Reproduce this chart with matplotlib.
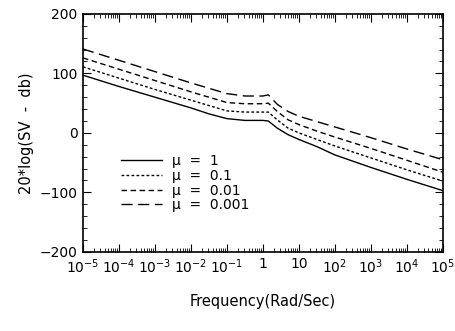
import numpy as np
import matplotlib.pyplot as plt
from matplotlib.ticker import FixedLocator, NullFormatter

logw = [-5, -4, -3, -2, -1.5, -1, -0.5, 0, 0.15, 0.4, 0.7, 1, 1.5, 2, 3, 4, 5]

sv_mu1 = [97, 78, 60, 42, 32, 24, 21, 21, 20, 8, -3, -11, -23, -37, -58, -78, -97]
sv_mu01 = [111, 92, 73, 55, 46, 37, 35, 35, 35, 22, 8, 0, -11, -22, -42, -62, -81]
sv_mu001 = [126, 107, 88, 69, 60, 51, 49, 49, 50, 36, 22, 14, 3, -7, -26, -46, -66]
sv_mu0001 = [141, 122, 103, 84, 75, 66, 62, 62, 64, 48, 36, 28, 19, 10, -8, -27, -45]

labels = ['μ  =  1', 'μ  =  0.1', 'μ  =  0.01', 'μ  =  0.001']
xticklabels = [r'$10^{-5}$', r'$10^{-4}$', r'$10^{-3}$', r'$10^{-2}$', r'$10^{-1}$',
               '1', '10', r'$10^{2}$', r'$10^{3}$', r'$10^{4}$', r'$10^{5}$']

w = 10.0 ** np.array(logw)

fig = plt.figure(figsize=(4.56, 3.31), dpi=100)
ax = fig.add_axes([0.182, 0.239, 0.789, 0.719])

styles = [(None, 1.0), ((2, 1.6), 1.0), ((4, 2.5), 1.0), ((8, 4), 1.0)]
for ys, lab, (dash, lw) in zip([sv_mu1, sv_mu01, sv_mu001, sv_mu0001], labels, styles):
    line, = ax.plot(w, ys, color='black', lw=lw, label=lab)
    if dash is not None:
        line.set_dashes(dash)

ax.set_xscale('log')
ax.set_xlim(1e-5, 1e5)
ax.set_ylim(-200, 200)
ax.set_xticks([10.0 ** k for k in range(-5, 6)])
ax.set_xticklabels(xticklabels)
ax.xaxis.set_minor_locator(FixedLocator([m * 10.0 ** k for k in range(-5, 5) for m in range(2, 10)]))
ax.xaxis.set_minor_formatter(NullFormatter())
ax.set_yticks([-200, -100, 0, 100, 200])
ax.set_yticks(np.arange(-200, 201, 20), minor=True)

ax.tick_params(which='both', direction='in', top=True, right=True, labelsize=10, pad=4)
ax.tick_params(which='major', length=6)
ax.tick_params(which='minor', length=3)
for s in ax.spines.values():
    s.set_linewidth(1.2)

ax.set_ylabel('20*log(SV  -  db)', fontsize=10.5)
fig.text(0.575, 0.09, 'Frequency(Rad/Sec)', ha='center', va='center', fontsize=10.5)

ax.legend(loc='upper left', bbox_to_anchor=(0.085, 0.44), frameon=False, fontsize=10,
          handlelength=3.0, handletextpad=0.7, labelspacing=0.05, borderpad=0)

fig.savefig('out.png', dpi=100)
